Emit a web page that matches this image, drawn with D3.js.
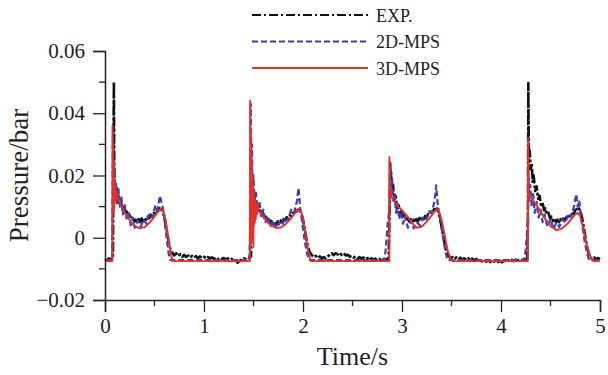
<!DOCTYPE html>
<html>
<head>
<meta charset="utf-8">
<script src="https://cdn.jsdelivr.net/npm/d3@7"></script>
<style>
  body { margin: 0; background: #fff; }
  svg { display: block; }
  text { font-family: "Liberation Serif", "Times New Roman", serif; fill: #222; }
</style>
</head>
<body>
<div id="canvas"></div>
<script>
// data: [time (s), pressure (bar)]
const expData = [
  [0,-0.0068],[0.02,-0.0073],[0.04,-0.0066],[0.06,-0.0071],[0.08,-0.0066],[0.085,0.028],[0.09,0.050],[0.093,0.024],[0.097,0.019],[0.10,0.015],[0.105,0.018],[0.11,0.013],[0.118,0.016],[0.125,0.012],[0.135,0.0135],[0.145,0.0105],[0.16,0.0118],[0.175,0.0092],[0.19,0.0098],[0.205,0.0080],[0.22,0.0084],[0.235,0.0068],[0.25,0.0072],[0.265,0.0060],[0.28,0.0063],[0.295,0.0052],[0.31,0.0058],[0.325,0.0049],[0.34,0.0060],[0.355,0.0050],[0.37,0.0062],[0.385,0.0053],[0.40,0.0064],[0.415,0.0058],[0.43,0.0068],[0.445,0.0062],[0.46,0.0074],[0.475,0.0070],[0.49,0.0080],[0.505,0.0078],[0.52,0.0088],[0.535,0.0085],[0.55,0.0095],[0.565,0.0090],[0.58,0.0088],[0.595,0.0072],[0.61,0.0050],[0.625,0.0022],[0.64,-0.0008],[0.655,-0.0030],[0.67,-0.0044],[0.685,-0.0050],[0.70,-0.0057],[0.72,-0.0050],[0.74,-0.0059],[0.76,-0.0053],[0.78,-0.0061],[0.80,-0.0055],[0.82,-0.0062],[0.84,-0.0057],[0.86,-0.0064],[0.88,-0.0058],[0.90,-0.0063],[0.92,-0.0059],[0.94,-0.0066],[0.96,-0.0060],[0.98,-0.0065],[1.00,-0.0061],[1.02,-0.0067],[1.04,-0.0062],[1.06,-0.0066],[1.08,-0.0063],[1.10,-0.0068],[1.12,-0.0063],[1.14,-0.0069],[1.16,-0.0064],[1.18,-0.0068],[1.20,-0.0065],[1.22,-0.0070],[1.24,-0.0066],[1.26,-0.0071],[1.28,-0.0068],[1.30,-0.0076],[1.32,-0.0072],[1.34,-0.0080],[1.36,-0.0074],[1.38,-0.0070],[1.40,-0.0066],[1.42,-0.0068],[1.44,-0.0063],[1.46,-0.0066],
  [1.475,-0.0060],[1.48,0.022],[1.485,0.012],[1.49,0.016],[1.50,0.011],[1.51,0.0135],[1.52,0.0098],[1.535,0.0112],[1.55,0.0086],[1.565,0.0094],[1.58,0.0075],[1.595,0.0080],[1.61,0.0064],[1.625,0.0068],[1.64,0.0055],[1.655,0.0060],[1.67,0.0048],[1.685,0.0054],[1.70,0.0044],[1.715,0.0052],[1.73,0.0043],[1.745,0.0053],[1.76,0.0045],[1.775,0.0056],[1.79,0.0050],[1.805,0.0060],[1.82,0.0055],[1.835,0.0066],[1.85,0.0062],[1.865,0.0072],[1.88,0.0070],[1.895,0.0080],[1.91,0.0078],[1.925,0.0088],[1.94,0.0085],[1.955,0.0093],[1.97,0.0088],[1.985,0.0078],[2.00,0.0058],[2.015,0.0032],[2.03,0.0005],[2.045,-0.0022],[2.06,-0.0040],[2.075,-0.0050],[2.09,-0.0056],[2.11,-0.0062],[2.13,-0.0058],[2.15,-0.0065],[2.17,-0.0060],[2.19,-0.0066],[2.21,-0.0062],[2.23,-0.0067],[2.25,-0.0060],[2.27,-0.0055],[2.29,-0.0050],[2.31,-0.0056],[2.33,-0.0049],[2.35,-0.0054],[2.37,-0.0048],[2.39,-0.0055],[2.41,-0.0050],[2.43,-0.0057],[2.45,-0.0054],[2.47,-0.0061],[2.49,-0.0058],[2.51,-0.0064],[2.53,-0.0060],[2.55,-0.0066],[2.57,-0.0062],[2.59,-0.0068],[2.61,-0.0063],[2.63,-0.0069],[2.65,-0.0065],[2.67,-0.0072],[2.69,-0.0066],[2.71,-0.0071],[2.73,-0.0067],[2.75,-0.0073],[2.77,-0.0068],[2.79,-0.0074],[2.81,-0.0069],[2.83,-0.0073],[2.85,-0.0068],[2.865,-0.0070],
  [2.875,0.010],[2.88,0.024],[2.885,0.018],[2.89,0.021],[2.90,0.015],[2.91,0.017],[2.92,0.012],[2.935,0.0135],[2.95,0.0095],[2.965,0.0105],[2.98,0.0078],[2.995,0.0086],[3.01,0.0068],[3.025,0.0075],[3.04,0.0060],[3.055,0.0066],[3.07,0.0053],[3.085,0.0060],[3.10,0.0050],[3.115,0.0058],[3.13,0.0049],[3.145,0.0060],[3.16,0.0052],[3.175,0.0063],[3.19,0.0056],[3.205,0.0066],[3.22,0.0060],[3.235,0.0070],[3.25,0.0066],[3.265,0.0076],[3.28,0.0074],[3.295,0.0084],[3.31,0.0082],[3.325,0.0092],[3.34,0.0090],[3.355,0.0094],[3.37,0.0080],[3.385,0.0060],[3.40,0.0035],[3.415,0.0008],[3.43,-0.0018],[3.445,-0.0038],[3.46,-0.0052],[3.475,-0.0060],[3.49,-0.0066],[3.51,-0.0062],[3.53,-0.0068],[3.55,-0.0063],[3.57,-0.0069],[3.59,-0.0064],[3.61,-0.0070],[3.63,-0.0066],[3.65,-0.0071],[3.67,-0.0066],[3.69,-0.0072],[3.71,-0.0067],[3.73,-0.0073],[3.75,-0.0068],[3.77,-0.0074],[3.79,-0.0070],[3.81,-0.0076],[3.83,-0.0071],[3.85,-0.0077],[3.87,-0.0072],[3.89,-0.0078],[3.91,-0.0073],[3.93,-0.0077],[3.95,-0.0072],[3.97,-0.0078],[3.99,-0.0074],[4.01,-0.0079],[4.03,-0.0073],[4.05,-0.0077],[4.07,-0.0072],[4.09,-0.0076],[4.11,-0.0071],[4.13,-0.0075],[4.15,-0.0070],[4.17,-0.0074],[4.19,-0.0069],[4.21,-0.0073],[4.23,-0.0068],[4.25,-0.0071],[4.265,-0.0067],
  [4.272,0.005],[4.276,0.0497],[4.28,0.030],[4.285,0.026],[4.29,0.028],[4.30,0.022],[4.31,0.024],[4.32,0.018],[4.33,0.020],[4.345,0.015],[4.36,0.0165],[4.375,0.0125],[4.39,0.0135],[4.405,0.0105],[4.42,0.0112],[4.435,0.0088],[4.45,0.0094],[4.465,0.0074],[4.48,0.0080],[4.495,0.0062],[4.51,0.0068],[4.525,0.0054],[4.54,0.0060],[4.555,0.0050],[4.57,0.0058],[4.585,0.0050],[4.60,0.0060],[4.615,0.0052],[4.63,0.0062],[4.645,0.0056],[4.66,0.0066],[4.675,0.0060],[4.69,0.0070],[4.705,0.0068],[4.72,0.0078],[4.735,0.0076],[4.75,0.0088],[4.765,0.0092],[4.78,0.0098],[4.795,0.0090],[4.81,0.0076],[4.825,0.0054],[4.84,0.0026],[4.855,-0.0004],[4.87,-0.0030],[4.885,-0.0050],[4.90,-0.0062],[4.92,-0.0068],[4.94,-0.0063],[4.96,-0.0070],[4.98,-0.0065],[5.00,-0.0069]
];

const mps2dData = [
  [0,-0.0072],[0.072,-0.0072],[0.076,0.012],[0.080,0.033],[0.084,0.018],[0.09,0.024],[0.10,0.014],[0.11,0.018],[0.12,0.011],[0.135,0.016],[0.15,0.010],[0.165,0.013],[0.18,0.0075],[0.20,0.0105],[0.22,0.0055],[0.24,0.0085],[0.26,0.0040],[0.28,0.0065],[0.30,0.0032],[0.33,0.0055],[0.36,0.0035],[0.39,0.0058],[0.42,0.0045],[0.45,0.0078],[0.48,0.0065],[0.51,0.0105],[0.53,0.0090],[0.555,0.0135],[0.57,0.0115],[0.585,0.0095],[0.60,0.0060],[0.615,0.0020],[0.63,-0.0020],[0.645,-0.0055],[0.66,-0.0072],
  [1.458,-0.0072],[1.462,-0.002],[1.468,0.010],[1.472,0.043],[1.478,0.022],[1.485,0.030],[1.49,0.016],[1.50,0.020],[1.51,0.012],[1.525,0.0145],[1.54,0.009],[1.56,0.0115],[1.58,0.0065],[1.60,0.0090],[1.62,0.0050],[1.645,0.0070],[1.67,0.0035],[1.70,0.0055],[1.73,0.0030],[1.76,0.0050],[1.79,0.0040],[1.82,0.0065],[1.85,0.0055],[1.88,0.0090],[1.91,0.0080],[1.94,0.0120],[1.955,0.0160],[1.97,0.0100],[1.985,0.0065],[2.00,0.0030],[2.02,-0.0015],[2.04,-0.0050],[2.06,-0.0072],
  [2.82,-0.0072],[2.835,-0.0040],[2.845,0.0000],[2.855,0.0045],[2.865,0.0070],[2.875,0.012],[2.882,0.0225],[2.89,0.016],[2.90,0.019],[2.91,0.012],[2.925,0.014],[2.94,0.008],[2.955,0.011],[2.97,0.0060],[2.99,0.0085],[3.01,0.0045],[3.03,0.0070],[3.06,0.0032],[3.09,0.0055],[3.12,0.0030],[3.15,0.0050],[3.18,0.0040],[3.21,0.0065],[3.24,0.0055],[3.27,0.0085],[3.30,0.0080],[3.33,0.0120],[3.345,0.0168],[3.36,0.0110],[3.38,0.0070],[3.40,0.0030],[3.42,-0.0010],[3.44,-0.0045],[3.46,-0.0072],
  [4.23,-0.0072],[4.245,-0.0050],[4.26,0.0000],[4.27,0.0060],[4.278,0.020],[4.285,0.012],[4.295,0.017],[4.31,0.010],[4.325,0.014],[4.34,0.008],[4.36,0.0115],[4.38,0.0065],[4.40,0.0090],[4.42,0.0050],[4.44,0.0075],[4.47,0.0035],[4.50,0.0060],[4.53,0.0028],[4.56,0.0050],[4.59,0.0035],[4.62,0.0060],[4.65,0.0048],[4.68,0.0078],[4.71,0.0068],[4.74,0.0105],[4.76,0.0140],[4.775,0.0100],[4.79,0.0120],[4.81,0.0060],[4.83,0.0020],[4.85,-0.0020],[4.87,-0.0050],[4.89,-0.0072],[5.0,-0.0072]
];

const mps3dData = [
  [0,-0.0075],[0.074,-0.0075],[0.076,0.036],[0.079,0.010],[0.082,0.030],[0.085,0.008],[0.088,0.024],[0.091,0.009],[0.094,0.020],[0.097,0.011],[0.100,0.018],[0.104,0.012],[0.108,0.016],[0.113,0.0125],[0.12,0.0145],[0.13,0.0125],[0.15,0.0112],[0.18,0.0090],[0.22,0.0071],[0.26,0.0052],[0.30,0.0038],[0.35,0.0030],[0.40,0.0034],[0.45,0.0048],[0.50,0.0068],[0.54,0.0086],[0.565,0.0093],[0.59,0.0085],[0.61,0.0060],[0.63,0.0020],[0.65,-0.0025],[0.67,-0.0060],[0.685,-0.0075],
  [1.462,-0.0075],[1.464,-0.0060],[1.466,0.044],[1.469,0.005],[1.472,0.035],[1.475,-0.002],[1.478,0.028],[1.481,0.000],[1.484,0.024],[1.487,0.002],[1.490,0.020],[1.493,0.004],[1.496,0.017],[1.499,-0.003],[1.502,0.015],[1.506,0.004],[1.510,0.013],[1.514,0.005],[1.518,0.012],[1.523,0.006],[1.528,0.011],[1.534,0.0075],[1.54,0.0105],[1.55,0.0088],[1.57,0.0082],[1.60,0.0066],[1.64,0.0050],[1.68,0.0039],[1.72,0.0033],[1.77,0.0032],[1.82,0.0042],[1.87,0.0058],[1.92,0.0080],[1.955,0.0093],[1.98,0.0084],[2.00,0.0060],[2.02,0.0022],[2.04,-0.0020],[2.06,-0.0055],[2.08,-0.0075],
  [2.872,-0.0075],[2.873,0.026],[2.878,0.013],[2.885,0.016],[2.895,0.013],[2.92,0.0118],[2.96,0.0100],[3.01,0.0085],[3.06,0.0066],[3.11,0.0045],[3.15,0.0032],[3.20,0.0036],[3.25,0.0052],[3.30,0.0072],[3.35,0.0092],[3.37,0.0088],[3.40,0.0058],[3.43,0.0010],[3.46,-0.0040],[3.49,-0.0068],[3.51,-0.0075],
  [4.272,-0.0075],[4.274,0.032],[4.28,0.013],[4.29,0.014],[4.31,0.0125],[4.36,0.0105],[4.43,0.0068],[4.50,0.0038],[4.56,0.0024],[4.62,0.0030],[4.68,0.0048],[4.74,0.0072],[4.775,0.0080],[4.80,0.0070],[4.83,0.0032],[4.86,-0.0015],[4.89,-0.0050],[4.92,-0.0072],[4.94,-0.0075],[5.0,-0.0075]
];

const xTicks = [0, 1, 2, 3, 4, 5];
const xMinorTicks = [0.5, 1.5, 2.5, 3.5, 4.5];
const yTicks = [-0.02, 0, 0.02, 0.04, 0.06];
const yMinorTicks = [-0.01, 0.01, 0.03, 0.05];
const legendNames = ["EXP.", "2D-MPS", "3D-MPS"];

let width = 608, height = 375;

let svg = d3.select("#canvas").append("svg")
  .attr("width", width)
  .attr("height", height);

let x = d3.scaleLinear()
  .domain([0, 5])
  .range([105, 600]);

let y = d3.scaleLinear()
  .domain([-0.02, 0.06])
  .range([300, 51]);

// curves
let line = d3.line()
  .x(function (d) { return x(d[0]); })
  .y(function (d) { return y(d[1]); });

let series = [
  { data: expData, color: "#111", dash: "10,2,3,2", w: 2.6 },
  { data: mps2dData, color: "#3c40b0", dash: "6,3", w: 2.2 },
  { data: mps3dData, color: "#e8302a", dash: null, w: 1.9 }
];

series.forEach(function (s) {
  svg.append("path")
    .datum(s.data)
    .attr("d", line)
    .attr("fill", "none")
    .attr("stroke", s.color)
    .attr("stroke-width", s.w)
    .attr("stroke-dasharray", s.dash)
    .attr("stroke-linejoin", "round");
});

// axes
let xAxis = svg.append("g")
  .attr("transform", "translate(0," + y(-0.02) + ")")
  .call(d3.axisBottom(x).tickValues(xTicks).tickFormat(d3.format("d")).tickSize(12).tickPadding(6));

xAxis.selectAll(".minor").data(xMinorTicks).enter()
  .append("line")
  .attr("x1", function (d) { return x(d); })
  .attr("x2", function (d) { return x(d); })
  .attr("y1", 0).attr("y2", 6)
  .attr("stroke", "#222")
  .attr("stroke-width", 1.3);

let yAxis = svg.append("g")
  .attr("transform", "translate(" + x(0) + ",0)")
  .call(d3.axisLeft(y).tickValues(yTicks).tickFormat(function (d) { return d === 0 ? "0" : d3.format(".2f")(d); }).tickSize(12).tickPadding(8));

yAxis.selectAll(".minor").data(yMinorTicks).enter()
  .append("line")
  .attr("y1", function (d) { return y(d); })
  .attr("y2", function (d) { return y(d); })
  .attr("x1", 0).attr("x2", -6)
  .attr("stroke", "#222")
  .attr("stroke-width", 1.3);

svg.selectAll(".domain").attr("stroke", "#222").attr("stroke-width", 1.5);
svg.selectAll(".tick line").attr("stroke", "#222").attr("stroke-width", 1.3);
svg.selectAll("g").attr("font-family", "Liberation Serif").attr("font-size", 21);
svg.selectAll(".tick text")
  .attr("font-family", "Liberation Serif")
  .style("font-family", "'Liberation Serif', serif")
  .style("font-size", "21px")
  .attr("fill", "#222");

// axis titles
svg.append("text")
  .attr("x", (x(0) + x(5)) / 2)
  .attr("y", 365)
  .attr("text-anchor", "middle")
  .style("font-size", "26px")
  .text("Time/s");

svg.append("text")
  .attr("transform", "translate(28," + (y(-0.02) + y(0.06)) / 2 + ") rotate(-90)")
  .attr("text-anchor", "middle")
  .style("font-size", "27px")
  .text("Pressure/bar");

// legend
let legend = svg.append("g");
legendNames.forEach(function (name, i) {
  let ly = 15 + i * 26.5;
  legend.append("line")
    .attr("x1", 252).attr("x2", 368)
    .attr("y1", ly).attr("y2", ly)
    .attr("stroke", series[i].color)
    .attr("stroke-width", i === 0 ? 2 : series[i].w)
    .attr("stroke-dasharray", i === 0 ? "9,3,2,3" : series[i].dash);
  legend.append("text")
    .attr("x", 376)
    .attr("y", ly + 6.5)
    .style("font-size", "18px")
    .text(name);
});
</script>
</body>
</html>
